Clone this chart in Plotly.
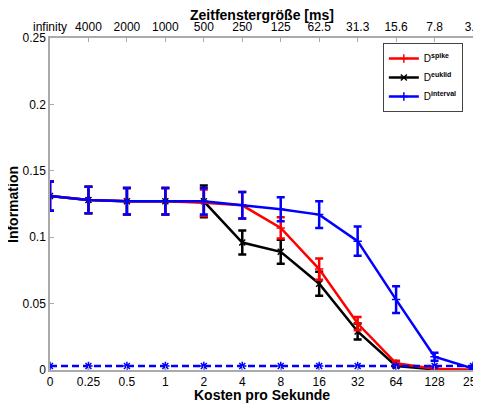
import plotly.graph_objects as go

cost_labels = ["0", "0.25", "0.5", "1", "2", "4", "8", "16", "32", "64", "128", "256"]
window_labels = ["infinity", "4000", "2000", "1000", "500", "250", "125", "62.5", "31.3", "15.6", "7.8", "3.9"]

spike = [0.131, 0.128, 0.127, 0.127, 0.126, 0.124, 0.107, 0.076, 0.035, 0.005, 0.001, 0.0]
spike_err = [0.011, 0.010, 0.010, 0.010, 0.010, 0.010, 0.008, 0.008, 0.005, 0.002, 0.001, 0.0005]
euklid = [0.131, 0.128, 0.127, 0.127, 0.127, 0.096, 0.089, 0.065, 0.029, 0.003, 0.0005, 0.0]
euklid_err = [0.011, 0.010, 0.010, 0.010, 0.012, 0.009, 0.009, 0.009, 0.006, 0.001, 0.0005, 0.0003]
interval = [0.131, 0.128, 0.127, 0.127, 0.127, 0.124, 0.121, 0.117, 0.097, 0.053, 0.010, 0.001]
interval_err = [0.011, 0.010, 0.010, 0.010, 0.010, 0.010, 0.009, 0.010, 0.011, 0.010, 0.003, 0.001]
shuffled = [0.003, 0.003, 0.003, 0.003, 0.003, 0.003, 0.003, 0.003, 0.003, 0.003, 0.003, 0.003]

yticks = [0, 0.05, 0.1, 0.15, 0.2, 0.25]
ytick_labels = ["0", "0.05", "0.1", "0.15", "0.2", "0.25"]

xs = list(range(len(cost_labels)))
FONT = "Liberation Sans, Arial, sans-serif"

fig = go.Figure()


def add(name, y, err, color, symbol, rank):
    fig.add_trace(go.Scatter(
        x=xs, y=y, name=name, mode="lines+markers",
        line=dict(color=color, width=2.5),
        marker=dict(symbol=symbol, size=6, color=color, line=dict(color=color, width=1.5)),
        error_y=dict(type="data", array=err, visible=True, color=color, thickness=2.5, width=4),
        legendrank=rank,
    ))


add("D<sup><b>euklid</b></sup>", euklid, euklid_err, "black", "x-thin", 2)
add("D<sup><b>spike</b></sup>", spike, spike_err, "red", "cross-thin", 1)
add("D<sup><b>interval</b></sup>", interval, interval_err, "blue", "cross-thin", 3)

fig.add_trace(go.Scatter(
    x=xs, y=shuffled, mode="lines+markers", showlegend=False,
    line=dict(color="blue", width=2.5, dash="7px,4px"),
    marker=dict(symbol="asterisk-open", size=7, color="blue", line=dict(color="blue", width=1.5)),
))
# invisible trace anchoring the top axis
fig.add_trace(go.Scatter(x=xs, y=shuffled, xaxis="x2", mode="none", showlegend=False, hoverinfo="skip"))

axis_common = dict(showgrid=False, zeroline=False, showline=True, linecolor="#aaaaaa", linewidth=1.5,
                   ticks="inside", ticklen=4, tickcolor="#aaaaaa", automargin=False,
                   ticklabeloverflow="allow",
                   tickfont=dict(size=12, color="black"))

# page body has an 8px default margin, so the figure is 8px smaller
fig.update_layout(
    width=473, height=399,
    margin=dict(l=42, r=8, t=30, b=37),
    paper_bgcolor="white", plot_bgcolor="white",
    font=dict(family=FONT, size=12, color="black"),
    showlegend=True,
    legend=dict(x=0.976, y=0.985, xanchor="right", yanchor="top",
                bgcolor="white", bordercolor="#444", borderwidth=1,
                font=dict(family=FONT, size=10, color="black"),
                tracegroupgap=0, itemwidth=30),
    xaxis=dict(range=[0, 11], tickmode="array", tickvals=xs, ticktext=cost_labels, **axis_common),
    xaxis2=dict(range=[0, 11], overlaying="x", side="top", tickmode="array", tickvals=xs,
                ticktext=window_labels, **axis_common),
    yaxis=dict(range=[0, 0.25], tickmode="array", tickvals=yticks, ticktext=ytick_labels, **axis_common),
    annotations=[
        dict(text="<b>Kosten pro Sekunde</b>", xref="paper", yref="paper", x=0.5, y=-0.075,
             xanchor="center", yanchor="middle", showarrow=False, font=dict(size=14)),
        dict(text="<b>Zeitfenstergröße [ms]</b>", xref="paper", yref="paper", x=0.5, y=1.069,
             xanchor="center", yanchor="middle", showarrow=False, font=dict(size=14)),
        dict(text="<b>Information</b>", xref="paper", yref="paper", x=-0.0875, y=0.5,
             xanchor="center", yanchor="middle", showarrow=False, textangle=-90, font=dict(size=14)),
    ],
)

fig.write_html("out.html")
